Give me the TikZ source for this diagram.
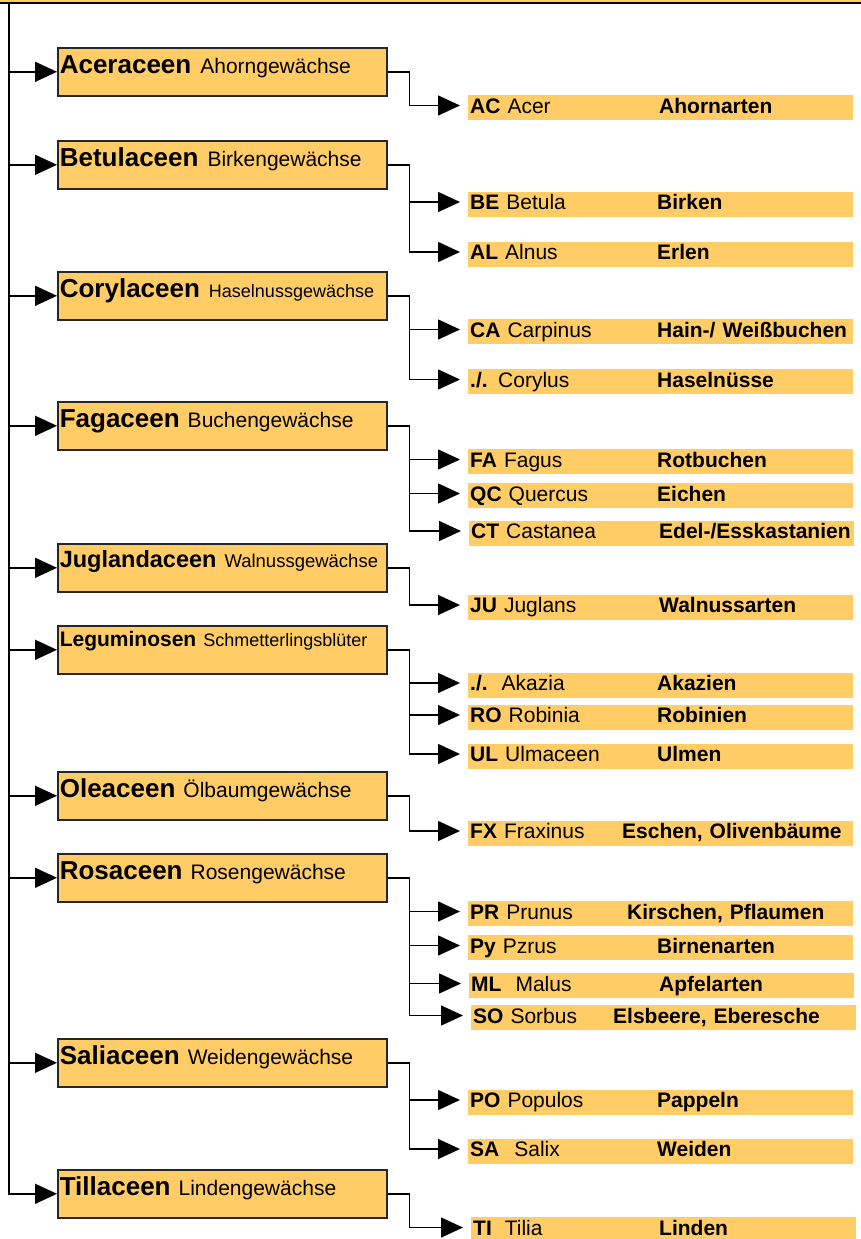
\documentclass[tikz,border=0pt]{standalone}
\usepackage{fontspec}
\setmainfont{Liberation Sans}
\usetikzlibrary{arrows.meta}
\definecolor{famfill}{RGB}{255,204,102}
\newcommand{\setfs}[1]{\fontsize{#1}{#1}\selectfont}
\newcommand{\species}[6]{\node[bar] (#1) at (#2,#3) {\makebox[#5pt][l]{#4}\textbf{#6}};
  \coordinate (a#1) at ([yshift=2pt]#1.west);}
\begin{document}
\begin{tikzpicture}[x=1pt,y=-1pt,
  fambox/.style={draw=black!85, line width=1.6pt, fill=famfill, rectangle, anchor=north west,
    minimum height=48pt, text width=325pt, inner xsep=2pt, inner ysep=0pt, align=left,
    text height=20pt, text depth=16pt},
  bar/.style={fill=famfill, rectangle, anchor=west, minimum height=25pt, text width=381pt,
    inner xsep=2pt, inner ysep=0pt, align=left, text height=16pt, text depth=4.5pt, font=\setfs{21}},
  conn/.style={line width=1.5pt},
  arr/.style={conn, -{Triangle[length=22pt,width=20pt]}},
  sarr/.style={arr, shorten >=8pt},
  mainline/.style={line width=2pt}
]
\useasboundingbox (0,0) rectangle (861,1239);
\clip (0,0) rectangle (861,1239);
% top rule
\fill[famfill] (0,0) rectangle (861,2);
\draw[line width=2pt] (0,3) -- (861,3);
\coordinate (mx) at (8.5,3);
\coordinate (bx) at (409.5,0);

% families
\node[fambox] (f1) at (57,47) {\textbf{\setfs{26}Aceraceen}\hspace{9pt}{\setfs{21}Ahorngewächse}};
\node[fambox] (f2) at (57,140) {\textbf{\setfs{26}Betulaceen}\hspace{9pt}{\setfs{21}Birkengewächse}};
\node[fambox] (f3) at (57,271) {\textbf{\setfs{26}Corylaceen}\hspace{9pt}{\setfs{18}Haselnussgewächse}};
\node[fambox] (f4) at (57,401) {\textbf{\setfs{26}Fagaceen}\hspace{8pt}{\setfs{21}Buchengewächse}};
\node[fambox, text height=18pt, text depth=18pt] (f5) at (57,543) {\textbf{\setfs{23.5}Juglandaceen}\hspace{8pt}{\setfs{18.5}Walnussgewächse}};
\node[fambox, text height=16pt, text depth=22pt] (f6) at (57,625) {\textbf{\setfs{21}Leguminosen}\hspace{7pt}{\setfs{18}Schmetterlingsblüter}};
\node[fambox] (f7) at (57,771) {\textbf{\setfs{26}Oleaceen}\hspace{8pt}{\setfs{21}Ölbaumgewächse}};
\node[fambox] (f8) at (57,853) {\textbf{\setfs{26}Rosaceen}\hspace{8pt}{\setfs{21}Rosengewächse}};
\node[fambox] (f9) at (57,1038) {\textbf{\setfs{26}Saliaceen}\hspace{8pt}{\setfs{21}Weidengewächse}};
\node[fambox] (f10) at (57,1169) {\textbf{\setfs{26}Tillaceen}\hspace{8pt}{\setfs{21}Lindengewächse}};

% species bars
\species{AC}{468}{107.5}{\textbf{AC} Acer}{189}{Ahornarten}
\species{BE}{468}{204}{\textbf{BE} Betula}{187}{Birken}
\species{AL}{468}{254}{\textbf{AL} Alnus}{187}{Erlen}
\species{CA}{468}{331.5}{\textbf{CA} Carpinus}{187}{Hain-/ Weißbuchen}
\species{CO}{468}{381.5}{\textbf{./.} Corylus}{187}{Haselnüsse}
\species{FA}{468}{461.5}{\textbf{FA} Fagus}{187}{Rotbuchen}
\species{QC}{468}{495.5}{\textbf{QC} Quercus}{187}{Eichen}
\species{CT}{469}{533}{\textbf{CT} Castanea}{188}{Edel-/Esskastanien}
\species{JU}{468}{607}{\textbf{JU} Juglans}{189}{Walnussarten}
\species{AK}{468}{685}{\textbf{./.}\hspace{14pt}Akazia}{187}{Akazien}
\species{RO}{468}{717}{\textbf{RO} Robinia}{187}{Robinien}
\species{UL}{468}{756}{\textbf{UL} Ulmaceen}{187}{Ulmen}
\species{FX}{468}{833}{\textbf{FX} Fraxinus}{152}{Eschen, Olivenbäume}
\species{PR}{468}{913.5}{\textbf{PR} Prunus}{157}{Kirschen, Pflaumen}
\species{PY}{468}{947.5}{\textbf{Py} Pzrus}{187}{Birnenarten}
\species{ML}{469}{985.5}{\textbf{ML}\hspace{14pt}Malus}{188}{Apfelarten}
\species{SO}{471}{1017.5}{\textbf{SO} Sorbus}{140}{Elsbeere, Eberesche}
\species{PO}{468}{1102}{\textbf{PO} Populos}{187}{Pappeln}
\species{SA}{468}{1151}{\textbf{SA}\hspace{15pt}Salix}{187}{Weiden}
\species{TI}{471}{1229.5}{\textbf{TI}\hspace{13pt}Tilia}{186}{Linden}

% main trunk and arrows to families
\draw[mainline] (mx) |- ([xshift=-10pt]f10.west);
\foreach \f in {f1,f2,f3,f4,f5,f6,f7,f8,f9,f10}
  \draw[arr] (\f.west -| mx) -- (\f.west);

% family to species connectors
\draw[sarr] (f1.east) -| (bx |- aAC) -- (aAC);
\draw[sarr] (f2.east) -| (bx |- aAL) -- (aAL);
\draw[sarr] (bx |- aBE) -- (aBE);
\draw[sarr] (f3.east) -| (bx |- aCO) -- (aCO);
\draw[sarr] (bx |- aCA) -- (aCA);
\draw[sarr] (f4.east) -| (bx |- aCT) -- (aCT);
\draw[sarr] (bx |- aFA) -- (aFA);
\draw[sarr] (bx |- aQC) -- (aQC);
\draw[sarr] (f5.east) -| (bx |- aJU) -- (aJU);
\draw[sarr] (f6.east) -| (bx |- aUL) -- (aUL);
\draw[sarr] (bx |- aAK) -- (aAK);
\draw[sarr] (bx |- aRO) -- (aRO);
\draw[sarr] (f7.east) -| (bx |- aFX) -- (aFX);
\draw[sarr] (f8.east) -| (bx |- aSO) -- (aSO);
\draw[sarr] (bx |- aPR) -- (aPR);
\draw[sarr] (bx |- aPY) -- (aPY);
\draw[sarr] (bx |- aML) -- (aML);
\draw[sarr] (f9.east) -| (bx |- aSA) -- (aSA);
\draw[sarr] (bx |- aPO) -- (aPO);
\draw[sarr] (f10.east) -| (bx |- aTI) -- (aTI);
\end{tikzpicture}
\end{document}
